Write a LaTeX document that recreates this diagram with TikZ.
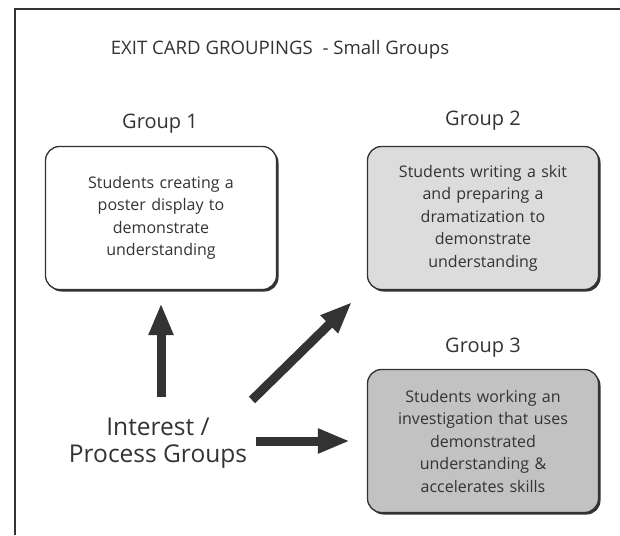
\documentclass[tikz,border=0pt]{standalone}
\usepackage{fontspec}
\setmainfont{Open Sans}
\usetikzlibrary{arrows.meta,shadows}
\definecolor{ink}{HTML}{333333}
\definecolor{grayA}{HTML}{DCDCDC}
\definecolor{grayB}{HTML}{C2C2C2}
\tikzset{
  card/.style={draw=ink, line width=1.3pt, rounded corners=14pt,
    minimum width=231pt, minimum height=143pt, align=center,
    text width=210pt, font=\fontsize{16}{22.5}\selectfont, text=ink,
    drop shadow={shadow xshift=2pt, shadow yshift=-2pt, fill=ink, opacity=1}},
  glabel/.style={font=\fontsize{20}{22}\selectfont, text=ink, anchor=base},
  bigarrow/.style={draw=ink, line width=9pt,
    -{Triangle[width=23pt,length=32pt]}},
}
\begin{document}
\begin{tikzpicture}[x=1pt,y=-1pt]
\useasboundingbox (0,0) rectangle (620,535);
\fill[white] (0,0) rectangle (620,535);
\draw[ink, line width=1.5pt] (15,535) -- (15,9) -- (620,9);
\node[font=\fontsize{18.6}{22}\selectfont, text=ink, anchor=base] (title) at (280,54) {EXIT CARD GROUPINGS\ \ - Small Groups};
\node[glabel] (l1) at (160,128) {Group 1};
\node[glabel] (l2) at (483,125) {Group 2};
\node[glabel] (l3) at (483,352) {Group 3};
\node[card, fill=white] (g1) at (161,218) {Students creating a\\poster display to\\demonstrate\\understanding};
\node[card, fill=grayA] (g2) at (483,218) {Students writing a skit\\and preparing a\\dramatization to\\demonstrate\\understanding};
\node[card, fill=grayB] (g3) at (483,441) {Students working an\\investigation that uses\\demonstrated\\understanding \&\\accelerates skills};
\node[font=\fontsize{24.5}{27.5}\selectfont, text=ink, align=center] (int) at (158,443) {Interest /\\Process Groups};
\coordinate (upTail) at (161,397);
\coordinate (diagTail) at (252,400);
\coordinate (horTail) at (256,441);
\draw[bigarrow, shorten >=13pt] (upTail) -- (upTail |- g1.south);
\draw[bigarrow] (diagTail) -- (352,302);
\draw[bigarrow, shorten >=17pt] (horTail) -- (horTail -| g3.west);
\end{tikzpicture}
\end{document}
